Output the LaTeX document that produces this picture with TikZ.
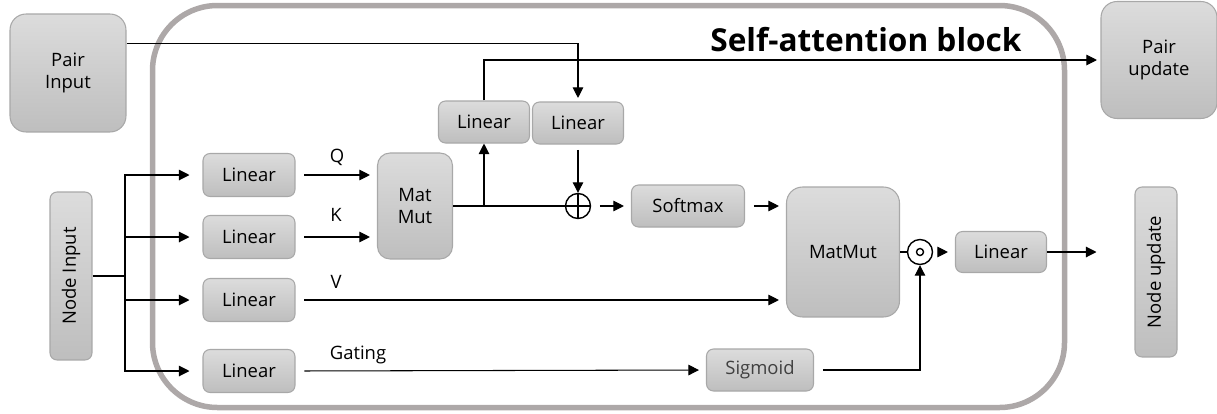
\documentclass[tikz,border=0pt]{standalone}
\usepackage{fontspec}
\setmainfont{Open Sans}
\usetikzlibrary{arrows.meta,positioning,calc}
\definecolor{boxtop}{HTML}{DCDCDC}
\definecolor{boxbot}{HTML}{BEBEBE}
\definecolor{boxline}{HTML}{A8A8A8}
\definecolor{framecol}{HTML}{ADA8A8}

\begin{document}
\begin{tikzpicture}[x=0.02cm, y=-0.02cm, line width=0.6pt, >={Triangle[length=6pt,width=6pt]},
box/.style={draw=boxline, rounded corners=4pt, top color=boxtop, bottom color=boxbot, align=center, inner sep=0pt},
lin/.style={box, minimum width=1.84cm, minimum height=0.86cm},
big/.style={box, rounded corners=0.32cm},
op/.style={circle, draw, line width=0.8pt, minimum size=0.5cm, inner sep=0pt},
gap/.style={shorten <=5pt, shorten >=4pt}]
\useasboundingbox (0,0) rectangle (1217,413);
\draw[framecol, line width=0.11cm, rounded corners=1.3cm] (152.5,5.5) rectangle (1064.5,407.5);
\begin{scope}[every node/.style={font=\fontsize{10.5}{13}\selectfont}]
\node[big, minimum width=2.32cm, minimum height=2.36cm] (pin) at (68,73) {Pair\\Input};
\node[big, minimum width=2.32cm, minimum height=2.34cm] (pup) at (1159,60) {Pair\\update};
\node[box, minimum width=0.84cm, minimum height=3.36cm] (nin) at (71,276) {\rotatebox{90}{Node Input}};
\node[box, minimum width=0.84cm, minimum height=3.4cm] (nup) at (1156,272) {\rotatebox{90}{Node update}};
\node[lin] (lq) at (249,175) {Linear};
\node[lin] (lk) at (249,237) {Linear};
\node[lin] (lv) at (249,300) {Linear};
\node[lin] (lg) at (249,371) {Linear};
\node[big, rounded corners=0.25cm, minimum width=1.5cm, minimum height=2.12cm] (mm1) at (415,206) {Mat\\Mut};
\node[lin, minimum width=1.82cm, minimum height=0.84cm] (ll) at (484,122) {Linear};
\node[lin, minimum width=1.82cm, minimum height=0.84cm] (lr) at (578,123) {Linear};
\node[op] (plus) at (578,206) {};
\node[lin, minimum width=2.26cm, minimum height=0.84cm] (sm) at (688,206) {Softmax};
\node[big, minimum width=2.26cm, minimum height=2.6cm] (mm2) at (843,252) {MatMut};
\node[op] (dot) at (920,252) {};
\node[lin, minimum width=1.82cm, minimum height=0.82cm] (lo) at (1001,252) {Linear};
\node[lin, minimum width=2.14cm, minimum height=0.84cm, text=black!75] (sg) at (760,370) {Sigmoid};
\node (qlab) at (337,157) {Q};
\node (klab) at (336,215) {K};
\node (vlab) at (336,282) {V};
\node (glab) at (358,355) {Gating};
\end{scope}
\node[font=\fontsize{18}{20}\selectfont\bfseries] (title) at (866,40) {Self-attention block};
% operator marks
\draw[line width=0.8pt] (plus.north) -- (plus.south) (plus.west) -- (plus.east);
\draw[line width=0.8pt] (dot) circle[radius=0.07cm];
% node input fan out
\coordinate (split) at (125,276);
\draw (nin.east) -- (split);
\foreach \n in {lq,lk,lv,lg}
  \draw[->, shorten >=0.26cm] (split) |- (\n.west);
\draw[->, gap] (lq.east) -- (lq.east -| mm1.west);
\draw[->, gap] (lk.east) -- (lk.east -| mm1.west);
\draw[->, gap] (lv.east) -- (lv.east -| mm2.west);
\draw[->, gap] (lg.east) -- (sg.west);
% attention logits and pair bias
\coordinate (br) at (mm1.east -| ll.south);
\draw (mm1.east) -- (plus.west);
\draw[->] (br) -- (ll.south);
\draw[->, shorten >=2pt] (ll.north) |- (pup.west);
\draw[->, shorten >=2pt] (pin.27) -| (lr.north);
\draw[->, shorten <=3pt] (lr.south) -- (plus.north);
\draw[->, gap] (plus.east) -- (sm.west);
\draw[->, gap] (sm.east) -- (sm.east -| mm2.west);
% gating and output
\draw (mm2.east) -- (dot.west);
\draw[->, shorten <=5pt] (sg.east) -| (dot.south);
\draw[->, gap] (dot.east) -- (lo.west);
\draw[->, shorten >=0.76cm] (lo.east) -- (lo.east -| nup.west);
\end{tikzpicture}
\end{document}
